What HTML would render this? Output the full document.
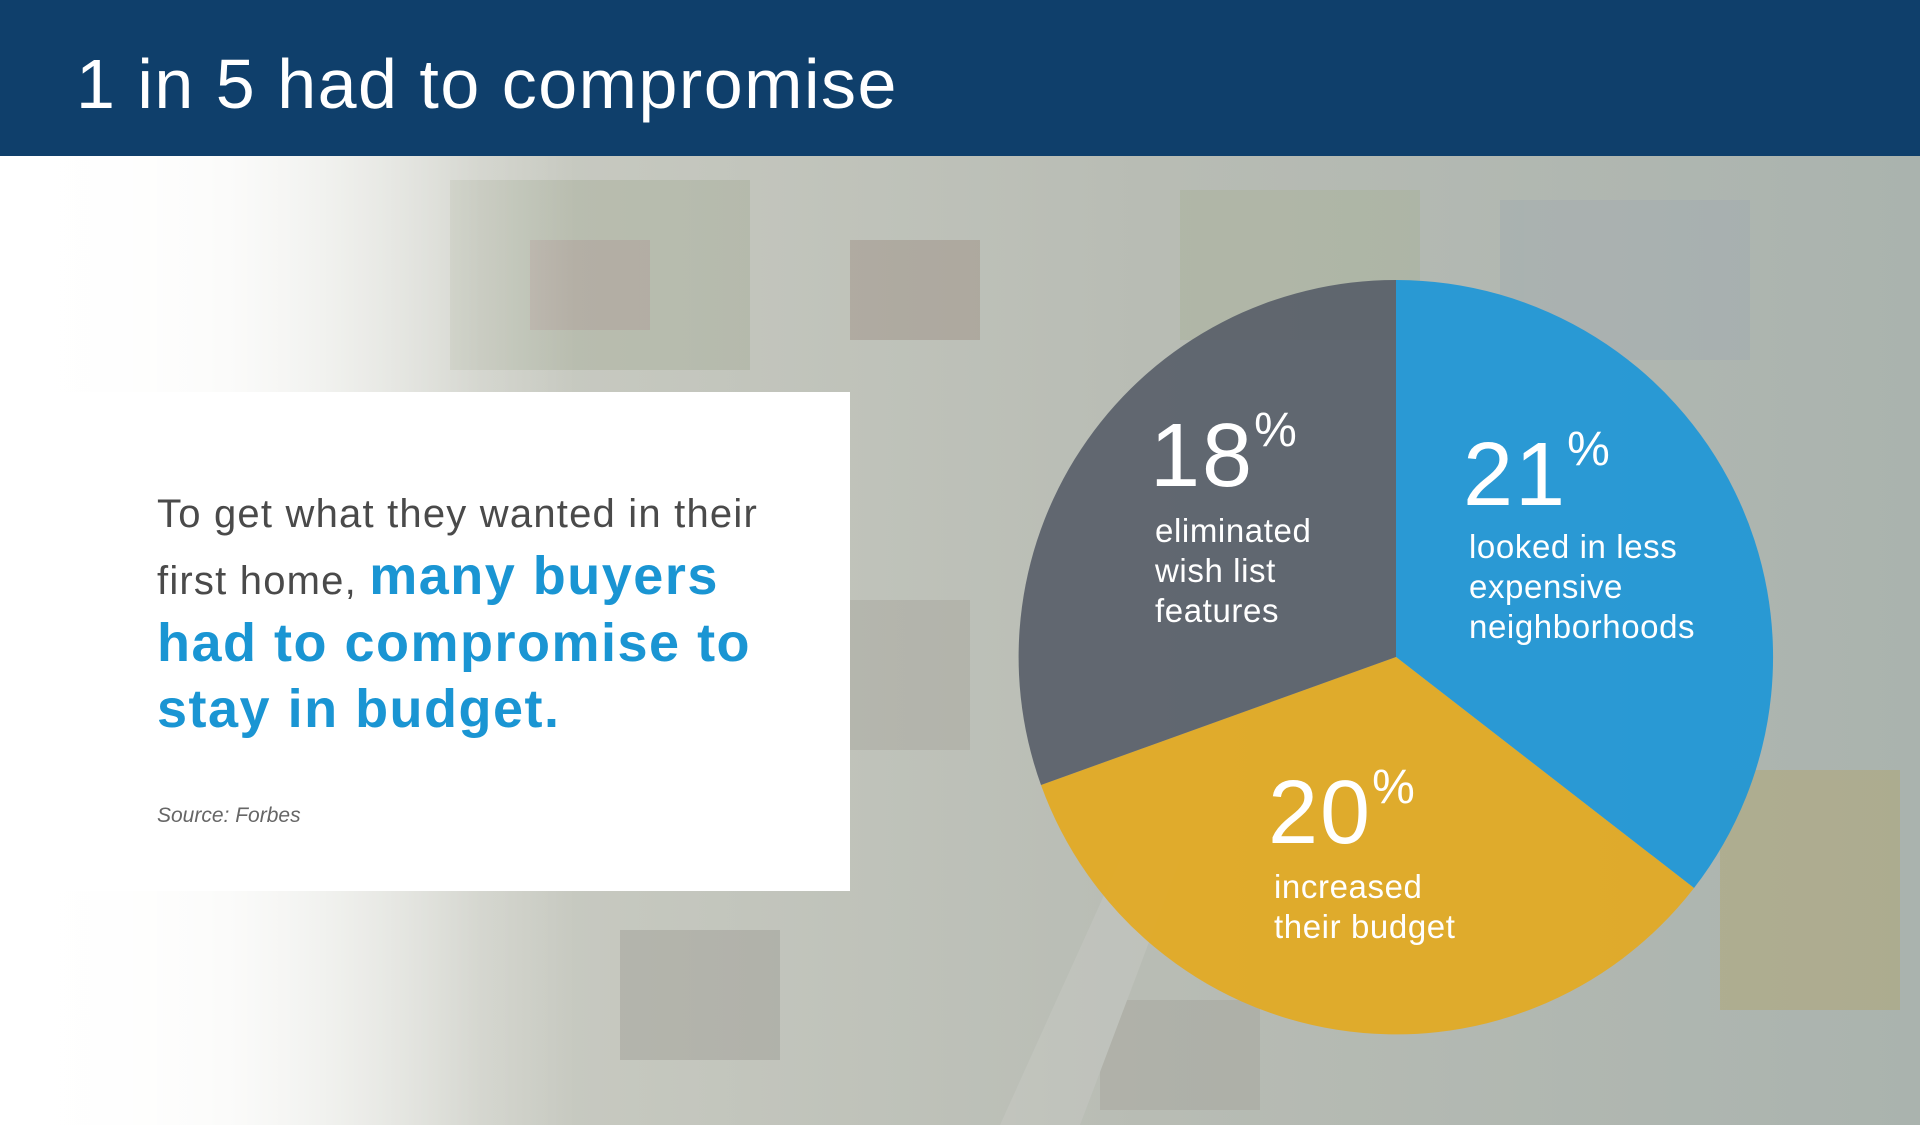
<!DOCTYPE html>
<html><head><meta charset="utf-8"><style>
html,body{margin:0;padding:0;width:1920px;height:1125px;overflow:hidden}
svg{display:block}
text{font-family:"Liberation Sans",sans-serif}
</style></head><body>
<svg width="1920" height="1125" viewBox="0 0 1920 1125" xmlns="http://www.w3.org/2000/svg">
<defs>
<linearGradient id="bg" x1="0" y1="0" x2="1" y2="0">
<stop offset="0" stop-color="#ffffff"/>
<stop offset="0.08" stop-color="#f4f4f0"/>
<stop offset="0.25" stop-color="#c9cbc2"/>
<stop offset="0.6" stop-color="#b8bcb4"/>
<stop offset="1" stop-color="#aab3ae"/>
</linearGradient>
<linearGradient id="fade" x1="0" y1="0" x2="1" y2="0">
<stop offset="0" stop-color="#fff" stop-opacity="1"/>
<stop offset="0.12" stop-color="#fff" stop-opacity="0.8"/>
<stop offset="0.3" stop-color="#fff" stop-opacity="0"/>
</linearGradient>
</defs>
<rect x="0" y="0" width="1920" height="1125" fill="url(#bg)"/>
<g opacity="0.3">
<rect x="450" y="180" width="300" height="190" fill="#9aa38a"/>
<rect x="530" y="240" width="120" height="90" fill="#8a7468"/>
<rect x="850" y="240" width="130" height="100" fill="#8a7468"/>
<rect x="1180" y="190" width="240" height="150" fill="#a2ad8c"/>
<rect x="1500" y="200" width="250" height="160" fill="#9aa6b0"/>
<rect x="1720" y="770" width="180" height="240" fill="#b49c48"/>
<rect x="850" y="600" width="120" height="150" fill="#9c9890"/>
<rect x="620" y="930" width="160" height="130" fill="#8c8880"/>
<rect x="1100" y="1000" width="160" height="110" fill="#9c9890"/>
<polygon points="1000,1125 1080,1125 1180,860 1120,860" fill="#cfd0cc"/>
</g>
<rect x="0" y="0" width="1920" height="1125" fill="url(#fade)"/>
<rect x="0" y="0" width="1920" height="156" fill="#0f3f6b"/>
<text x="76" y="108" font-size="70" letter-spacing="1.5" fill="#fff">1 in 5 had to compromise</text>
<rect x="0" y="392" width="850" height="499" fill="#fff"/>
<text x="157" y="527" font-size="40" letter-spacing="1.2" fill="#4a4a4a">To get what they wanted in their</text>
<text x="157" y="594" font-size="40" letter-spacing="1.2" fill="#4a4a4a">first home, <tspan font-weight="bold" font-size="54" letter-spacing="1.5" fill="#1a95d3">many buyers</tspan></text>
<text x="157" y="661" font-size="54" letter-spacing="1.5" font-weight="bold" fill="#1a95d3">had to compromise to</text>
<text x="157" y="727" font-size="54" letter-spacing="1.5" font-weight="bold" fill="#1a95d3">stay in budget.</text>
<text x="157" y="822" font-size="21" font-style="italic" fill="#666">Source: Forbes</text>
<path d="M1396,657 L1396,280 A377,377 0 0 1 1694,888 Z" fill="#1f97d6" opacity="0.93"/>
<path d="M1396,657 L1694,888 A377,377 0 0 1 1041,785 Z" fill="#e2aa25" opacity="0.95"/>
<path d="M1396,657 L1041,785 A377,377 0 0 1 1396,280 Z" fill="#545b67" opacity="0.88"/>
<g fill="#fff" letter-spacing="0.6">
<text x="1150" y="486" font-size="90" letter-spacing="2">18<tspan font-size="48" dy="-40">%</tspan></text>
<text x="1155" y="542" font-size="33">eliminated</text>
<text x="1155" y="582" font-size="33">wish list</text>
<text x="1155" y="622" font-size="33">features</text>
<text x="1463" y="505" font-size="90" letter-spacing="2">21<tspan font-size="48" dy="-40">%</tspan></text>
<text x="1469" y="558" font-size="33">looked in less</text>
<text x="1469" y="598" font-size="33">expensive</text>
<text x="1469" y="638" font-size="33">neighborhoods</text>
<text x="1268" y="843" font-size="90" letter-spacing="2">20<tspan font-size="48" dy="-40">%</tspan></text>
<text x="1274" y="898" font-size="33">increased</text>
<text x="1274" y="938" font-size="33">their budget</text>
</g>
</svg>
</body></html>
